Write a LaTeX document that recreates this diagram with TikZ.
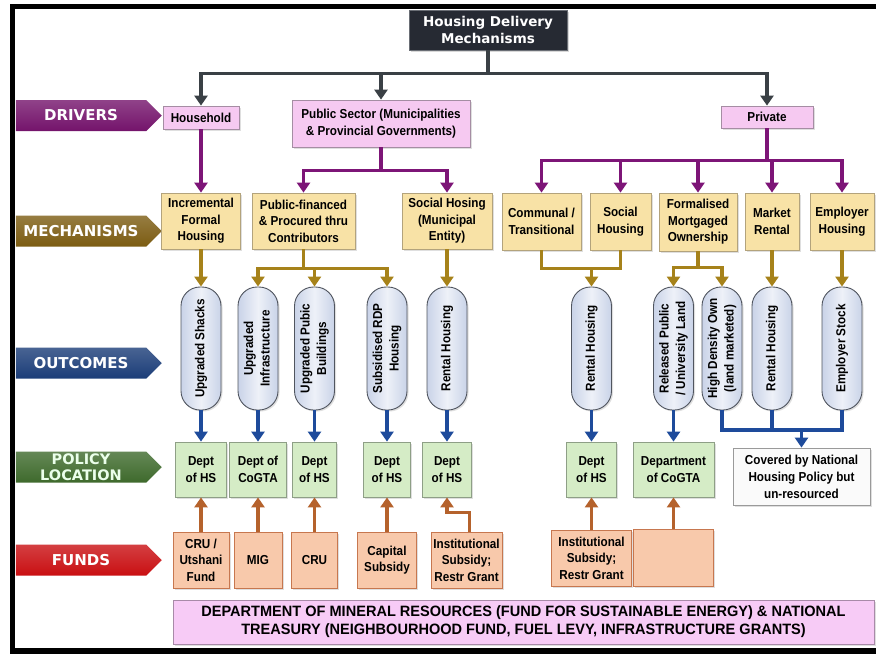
\documentclass[tikz,border=0pt]{standalone}
\usepackage{fontspec}
\usepackage{graphicx}
\setmainfont{Liberation Sans}
\newfontfamily\narrowf{Liberation Sans}[FakeStretch=0.9]
\newfontfamily\botfont{Liberation Sans}[FakeStretch=0.97]
\newfontfamily\lblf{DejaVu Sans}
\usetikzlibrary{shapes.symbols,shadows,arrows.meta}
\definecolor{titlef}{HTML}{262A33}
\definecolor{titled}{HTML}{6A6E75}
\definecolor{darkconn}{HTML}{3A4045}
\definecolor{pinkf}{HTML}{F6C9F1}
\definecolor{pinkd}{HTML}{A58DA3}
\definecolor{purpc}{HTML}{7D1577}
\definecolor{mechf}{HTML}{F8E2A6}
\definecolor{mechd}{HTML}{B3A37C}
\definecolor{goldc}{HTML}{A6821A}
\definecolor{capc}{HTML}{C9D3E8}
\definecolor{capm}{HTML}{EEF1F8}
\definecolor{capd}{HTML}{50555F}
\definecolor{bluec}{HTML}{1E4B9B}
\definecolor{greenf}{HTML}{D5ECC6}
\definecolor{greend}{HTML}{8E9F86}
\definecolor{brownc}{HTML}{B5622C}
\definecolor{peachf}{HTML}{F8C9AB}
\definecolor{peachd}{HTML}{C7774F}
\definecolor{botf}{HTML}{F7CBF6}
\definecolor{botd}{HTML}{A88AA8}
\definecolor{covf}{HTML}{FAFAFA}
\definecolor{covd}{HTML}{9A9A9A}
\definecolor{lblpurp}{HTML}{74136B}
\definecolor{lblgold}{HTML}{7C5C12}
\definecolor{lblblue}{HTML}{1B3D78}
\definecolor{lblgreen}{HTML}{3E6A2C}
\definecolor{lblred}{HTML}{C90F12}
\newcommand\captext[1]{\rotatebox{90}{\begin{tabular}{@{}c@{}}#1\end{tabular}}}
\begin{document}
\begin{tikzpicture}[x=1pt,y=-1pt,
  bx/.style={draw, line width=0.8pt, rectangle, align=center, inner sep=1pt,
    font=\narrowf\bfseries\fontsize{13}{16.5}\selectfont, text=black,
    drop shadow={opacity=0.25,shadow xshift=1.5pt,shadow yshift=-1.5pt}},
  drvbox/.style={bx, fill=pinkf, draw=pinkd},
  mechbox/.style={bx, fill=mechf, draw=mechd},
  polbox/.style={bx, fill=greenf, draw=greend},
  fundbox/.style={bx, fill=peachf, draw=peachd},
  capsule/.style={bx, draw=capd, line width=0.9pt, rounded corners=19pt,
    minimum width=40pt, minimum height=123pt, inner sep=0pt,
    left color=capc, right color=capc, middle color=capm},
  lbl/.style={shape=signal, signal to=east, signal pointer angle=90,
    minimum width=146pt, minimum height=31pt, inner sep=0pt, align=center,
    font=\lblf\bfseries\fontsize{15}{16}\selectfont, text=white},
  tip/.style={-{Triangle[width=13pt,length=10pt]}},
  darkarr/.style={draw=darkconn, line width=3.8pt, tip},
  purparr/.style={draw=purpc, line width=3.8pt, tip},
  goldline/.style={draw=goldc, line width=3.5pt},
  goldarr/.style={goldline, tip},
  blueline/.style={draw=bluec, line width=3.5pt},
  bluearr/.style={blueline, tip},
  brownarr/.style={draw=brownc, line width=3.5pt, tip}
]
\useasboundingbox (0,0) rectangle (876,654);
\fill[white] (0,0) rectangle (876,654);
% frame
\fill[black] (10,4) rectangle (876,9);
\fill[black] (10,4) rectangle (15,654);
\fill[black] (10,648) rectangle (876,654);

% title
\node[draw=titled, fill=titlef, line width=0.8pt, minimum width=158pt, minimum height=40pt,
  align=center, text=white, font=\lblf\bfseries\fontsize{13.5}{17}\selectfont,
  drop shadow={opacity=0.3,shadow xshift=1.5pt,shadow yshift=-1.5pt}] (title) at (488,30) {Housing Delivery\\Mechanisms};

% row labels
\node[lbl, top color=lblpurp!80!white, bottom color=lblpurp] (Ldrv) at (81,115.5) {DRIVERS};
\node[lbl, top color=lblgold!80!white, bottom color=lblgold] (Lmech) at (81,231) {MECHANISMS};
\node[lbl, top color=lblblue!80!white, bottom color=lblblue] (Lout) at (81,363) {OUTCOMES};
\node[lbl, top color=lblgreen!80!white, bottom color=lblgreen, text=green!8!white, font=\lblf\bfseries\fontsize{14.5}{16}\selectfont] (Lpol) at (81,467) {POLICY\\LOCATION};
\node[lbl, top color=lblred!80!white, bottom color=lblred] (Lfund) at (81,560) {FUNDS};

% drivers
\node[drvbox, minimum width=76pt, minimum height=23pt] (hh) at (201,117.5) {Household};
\node[drvbox, minimum width=178pt, minimum height=47pt, font=\narrowf\bfseries\fontsize{13}{17.5}\selectfont] (ps) at (381,123.5) {Public Sector (Municipalities\\\& Provincial Governments)};
\node[drvbox, minimum width=92pt, minimum height=22pt] (pv) at (767,117) {Private};

% mechanisms
\node[mechbox, minimum width=79pt, minimum height=56pt] (m1) at (201,221) {Incremental\\Formal\\Housing};
\node[mechbox, minimum width=103pt, minimum height=56pt] (m2) at (303.5,221) {Public-financed\\\& Procured thru\\Contributors};
\node[mechbox, minimum width=90pt, minimum height=56pt] (m3) at (447,221) {Social Hosing\\(Municipal\\Entity)};
\node[mechbox, minimum width=79pt, minimum height=57pt] (m4) at (541.5,221.5) {Communal /\\Transitional};
\node[mechbox, minimum width=61pt, minimum height=57pt] (m5) at (620.5,221.5) {Social\\Housing};
\node[mechbox, minimum width=78pt, minimum height=58pt] (m6) at (698,222) {Formalised\\Mortgaged\\Ownership};
\node[mechbox, minimum width=54pt, minimum height=57pt] (m7) at (772,221.5) {Market\\Rental};
\node[mechbox, minimum width=64pt, minimum height=57pt] (m8) at (842,221.5) {Employer\\Housing};

% outcomes
\node[capsule] (o1) at (201,348.5) {\captext{Upgraded Shacks}};
\node[capsule] (o2) at (258,348.5) {\captext{Upgraded\\Infrastructure}};
\node[capsule] (o3) at (314.5,348.5) {\captext{Upgraded Pubic\\Buildings}};
\node[capsule] (o4) at (387,348.5) {\captext{Subsidised RDP\\Housing}};
\node[capsule] (o5) at (447,348.5) {\captext{Rental Housing}};
\node[capsule] (o6) at (591.5,348.5) {\captext{Rental Housing}};
\node[capsule] (o7) at (673.5,348.5) {\captext{Released Public\\/ University Land}};
\node[capsule] (o8) at (722,348.5) {\captext{High Density Own\\(land marketed)}};
\node[capsule] (o9) at (772,348.5) {\captext{Rental Housing}};
\node[capsule] (o10) at (842,348.5) {\captext{Employer Stock}};

% policy location
\node[polbox, minimum width=51pt, minimum height=55pt] (p1) at (201,469.5) {Dept\\of HS};
\node[polbox, minimum width=57pt, minimum height=55pt] (p2) at (258,469.5) {Dept of\\CoGTA};
\node[polbox, minimum width=44pt, minimum height=55pt] (p3) at (314.5,469.5) {Dept\\of HS};
\node[polbox, minimum width=47pt, minimum height=55pt] (p4) at (387,469.5) {Dept\\of HS};
\node[polbox, minimum width=49pt, minimum height=55pt] (p5) at (447,469.5) {Dept\\of HS};
\node[polbox, minimum width=50pt, minimum height=55pt] (p6) at (591.5,469.5) {Dept\\of HS};
\node[polbox, minimum width=81pt, minimum height=55pt] (p7) at (673.5,469.5) {Department\\of CoGTA};
\node[bx, fill=covf, draw=covd, minimum width=137pt, minimum height=57pt,
  font=\narrowf\bfseries\fontsize{13}{17}\selectfont] (cov) at (801.5,476.5) {Covered by National\\Housing Policy but\\un-resourced};

% funds
\node[fundbox, minimum width=56pt, minimum height=56pt] (f1) at (201,560) {CRU /\\Utshani\\Fund};
\node[fundbox, minimum width=48pt, minimum height=56pt] (f2) at (258,560) {MIG};
\node[fundbox, minimum width=46pt, minimum height=56pt] (f3) at (314.5,560) {CRU};
\node[fundbox, minimum width=59pt, minimum height=56pt] (f4) at (387,560) {Capital\\Subsidy};
\node[fundbox, minimum width=71pt, minimum height=56pt] (f5) at (466.5,560) {Institutional\\Subsidy;\\Restr Grant};
\node[fundbox, minimum width=80pt, minimum height=56pt] (f6) at (591.5,558) {Institutional\\Subsidy;\\Restr Grant};
\node[fundbox, minimum width=80pt, minimum height=57pt] (f7) at (673.5,557.5) {};

% bottom box
\node[bx, fill=botf, draw=botd, minimum width=701pt, minimum height=44pt,
  font=\botfont\bfseries\fontsize{15}{18}\selectfont] (bot) at (523.5,622) {DEPARTMENT OF MINERAL RESOURCES (FUND FOR SUSTAINABLE ENERGY) \& NATIONAL\\TREASURY (NEIGHBOURHOOD FUND, FUEL LEVY, INFRASTRUCTURE GRANTS)};

% connectors: title -> drivers
\draw[darkarr] (title.south) -- ++(0,23) -| (hh.north);
\draw[darkarr] (title.south) -- ++(0,23) -| (ps.north);
\draw[darkarr] (title.south) -- ++(0,23) -| (pv.north);

% drivers -> mechanisms
\draw[purparr] (hh.south) -- (hh.south |- m1.north);
\draw[purparr] (ps.south) -- ++(0,23) -| (m2.north);
\draw[purparr] (ps.south) -- ++(0,23) -| (m3.north);
\foreach \m in {m4,m5,m6,m7,m8}
  \draw[purparr] (pv.south) -- ++(0,32) -| (\m.north);

% mechanisms -> outcomes
\draw[goldarr] (m1.south) -- (m1.south |- o1.north);
\foreach \o in {o2,o3,o4}
  \draw[goldarr] (m2.south) -- ++(0,19) -| (\o.north);
\draw[goldarr] (m3.south) -- (m3.south |- o5.north);
\draw[goldline] (m4.south) -- ++(0,18) -| (m5.south);
\draw[goldarr] (o6.north |- 0,268) -- (o6.north);
\draw[goldarr] (m6.south) -- ++(0,16) -| (o7.north);
\draw[goldarr] (m6.south) -- ++(0,16) -| (o8.north);
\draw[goldarr] (m7.south) -- (m7.south |- o9.north);
\draw[goldarr] (m8.south) -- (m8.south |- o10.north);

% outcomes -> policy
\foreach \i in {1,...,7}
  \draw[bluearr] (o\i.south) -- (o\i.south |- p\i.north);
\draw[blueline] (o8.south) -- (o8.south |- 0,430) -| (o10.south);
\draw[blueline] (o9.south) -- (o9.south |- 0,430);
\draw[bluearr] (cov.north |- 0,430) -- (cov.north);

% funds -> policy
\foreach \i in {1,2,3,4,6,7}
  \draw[brownarr] (f\i.north) -- (f\i.north |- p\i.south);
\draw[brownarr] ([xshift=3pt]f5.north) -- ++(0,-19) -| (p5.south);
\end{tikzpicture}
\end{document}
